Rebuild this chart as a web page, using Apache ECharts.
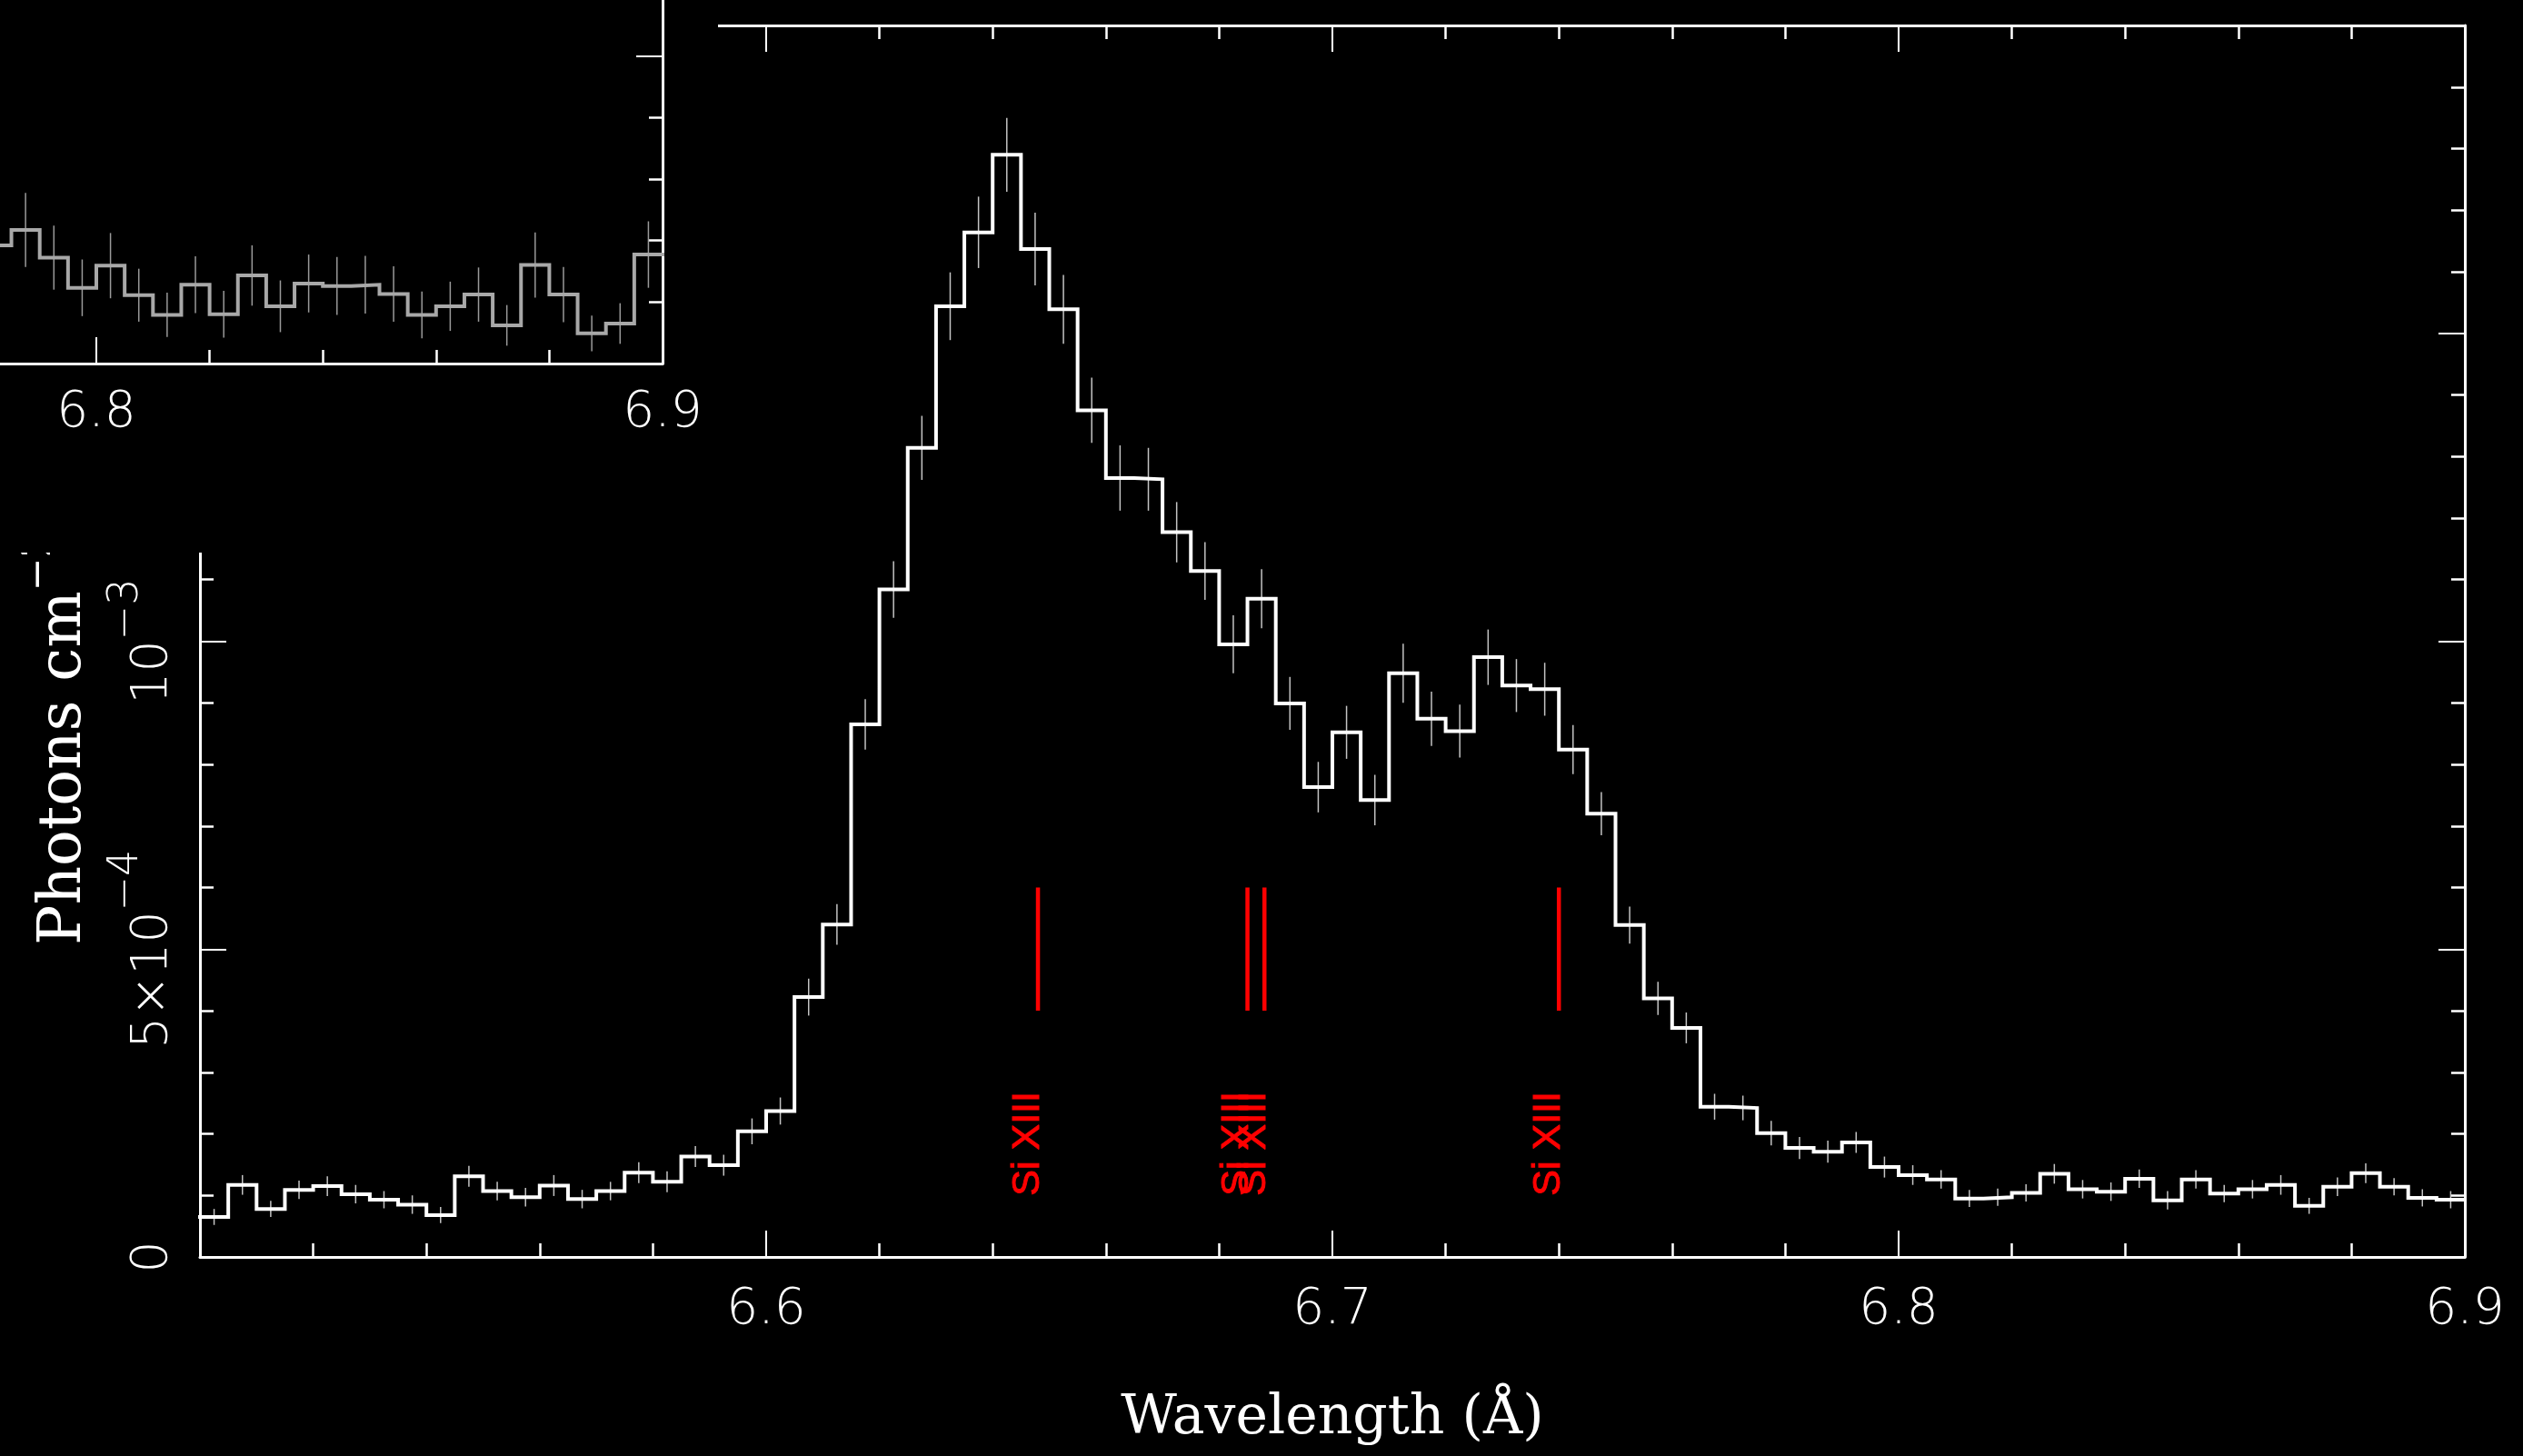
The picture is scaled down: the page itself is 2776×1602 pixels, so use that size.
<!DOCTYPE html>
<html><head><meta charset="utf-8">
<script src="https://cdn.jsdelivr.net/npm/echarts@6/dist/echarts.min.js"></script>
<style>html,body{margin:0;padding:0;background:#000;}#c{width:2776px;height:1602px;}</style>
</head><body><div id="c"></div>
<script>
// Flux density in units of 1e-4 photons cm^-2 s^-1 Å^-1, 0.005 Å bins
const binStart = 6.5;
const binWidth = 0.005;
const flux = [
  0.65, 1.17, 0.78, 1.09, 1.15, 1.02, 0.93, 0.85, 0.68, 1.31,
  1.07, 0.97, 1.16, 0.94, 1.07, 1.37, 1.22, 1.63, 1.49, 2.04,
  2.37, 4.22, 5.40, 8.65, 10.84, 13.14, 15.44, 16.64, 17.90, 16.37,
  15.39, 13.75, 12.65, 12.63, 11.77, 11.14, 9.95, 10.69, 8.99, 7.63,
  8.52, 7.42, 9.48, 8.74, 8.54, 9.74, 9.28, 9.22, 8.24, 7.20,
  5.39, 4.20, 3.72, 2.44, 2.42, 2.01, 1.77, 1.71, 1.86, 1.46,
  1.33, 1.26, 0.95, 0.97, 1.04, 1.35, 1.10, 1.06, 1.27, 0.92,
  1.26, 1.03, 1.10, 1.17, 0.83, 1.14, 1.36, 1.14, 0.96, 0.93
];
const fluxErr = [
  0.13, 0.16, 0.13, 0.15, 0.16, 0.15, 0.14, 0.15, 0.13, 0.17,
  0.15, 0.15, 0.17, 0.15, 0.15, 0.17, 0.17, 0.17, 0.17, 0.21,
  0.22, 0.30, 0.33, 0.41, 0.46, 0.52, 0.55, 0.58, 0.60, 0.59,
  0.56, 0.53, 0.53, 0.51, 0.49, 0.47, 0.47, 0.48, 0.43, 0.41,
  0.43, 0.41, 0.48, 0.44, 0.43, 0.45, 0.43, 0.43, 0.40, 0.35,
  0.30, 0.27, 0.25, 0.21, 0.20, 0.20, 0.18, 0.18, 0.17, 0.17,
  0.16, 0.15, 0.14, 0.14, 0.14, 0.16, 0.15, 0.15, 0.15, 0.15,
  0.15, 0.14, 0.15, 0.16, 0.13, 0.15, 0.16, 0.14, 0.14, 0.14
];
// Inset panel (gray spectrum), visible part only
const insetStart = 6.78;
const insetFlux = [1.92, 2.17, 1.72, 1.23, 1.59, 1.11, 0.79, 1.28, 0.80, 1.43, 0.93, 1.30,
                   1.26, 1.28, 1.13, 0.79, 0.93, 1.12, 0.62, 1.60, 1.12, 0.49, 0.65, 1.77];
const insetErr  = [0.55, 0.60, 0.52, 0.46, 0.53, 0.43, 0.36, 0.46, 0.38, 0.49, 0.42, 0.47,
                   0.47, 0.47, 0.45, 0.38, 0.40, 0.44, 0.33, 0.53, 0.45, 0.29, 0.33, 0.54];
// Line identifications
const lineWavelengths = [6.648, 6.685, 6.688, 6.740];
const lineLabels = ['Si XIII', 'Si XIII', 'Si XIII', 'Si XIII'];
const markerRange = [4, 6];
const markerLabelY = 1.84;
// Tick labels
const xTickValues = [6.6, 6.7, 6.8, 6.9];
const xTickLabels = ['6.6', '6.7', '6.8', '6.9'];
const yTickValues = [0, 5, 10];
const yTickLabels = ['{n|0}', '{n|5×10}{sup|−4}', '{n|10}{sup|−3}'];

function stepData(start, vals) {
  const d = vals.map((v, i) => [+(start + i * binWidth).toFixed(4), v]);
  d.push([+(start + vals.length * binWidth).toFixed(4), vals[vals.length - 1]]);
  return d;
}
function errData(start, vals, errs) {
  return vals.map((v, i) => [+(start + (i + 0.5) * binWidth).toFixed(5), v - errs[i], v + errs[i]]);
}
function xFmt(v) {
  const i = xTickValues.findIndex(t => Math.abs(t - v) < 1e-6);
  return i < 0 ? '' : xTickLabels[i];
}
function yFmt(v) {
  const i = yTickValues.findIndex(t => Math.abs(t - v) < 1e-6);
  return i < 0 ? '' : yTickLabels[i];
}
const W = '#ffffff';
const numFont = 'DejaVu Sans';
function baseAxis(extra) {
  return Object.assign({
    type: 'value',
    axisLine: { show: true, onZero: false, lineStyle: { color: W, width: 3 } },
    axisTick: { show: true, inside: true, length: 29, lineStyle: { color: W, width: 2 } },
    minorTick: { show: true, splitNumber: 5, length: 15, lineStyle: { color: W, width: 2.5 } },
    splitLine: { show: false },
    minorSplitLine: { show: false },
    axisLabel: { show: false }
  }, extra);
}
const xLabel = (margin) => ({ show: true, margin: margin, color: W, fontSize: 55, fontFamily: numFont, fontWeight: 200, formatter: xFmt });

function errRender(color) {
  return function (params, api) {
    const p1 = api.coord([api.value(0), api.value(1)]);
    const p2 = api.coord([api.value(0), api.value(2)]);
    return { type: 'line', shape: { x1: p1[0], y1: p1[1], x2: p2[0], y2: p2[1] },
             style: { stroke: color, lineWidth: 1.5 } };
  };
}

const chart = echarts.init(document.getElementById('c'), null, { renderer: 'canvas' });
chart.setOption({
  backgroundColor: '#000',
  animation: false,
  grid: [
    { left: 220, right: 64, top: 28, bottom: 219, containLabel: false, outerBoundsMode: 'none' },
    { left: -1763, top: -955, width: 2492, height: 1355, containLabel: false, outerBoundsMode: 'none' }
  ],
  xAxis: [
    baseAxis({ gridIndex: 0, position: 'bottom', min: 6.5, max: 6.9, interval: 0.1,
      axisLabel: xLabel(31),
      name: 'Wavelength (Å)', nameLocation: 'middle', nameGap: 148,
      nameTextStyle: { color: W, fontSize: 60, fontFamily: 'DejaVu Serif' } }),
    baseAxis({ gridIndex: 0, position: 'top', min: 6.5, max: 6.9, interval: 0.1 }),
    baseAxis({ gridIndex: 1, position: 'bottom', min: 6.5, max: 6.9, interval: 0.1, z: 20,
      axisLabel: xLabel(27) })
  ],
  yAxis: [
    baseAxis({ gridIndex: 0, position: 'left', min: 0, max: 20, interval: 5,
      axisLabel: { show: true, rotate: 90, margin: 24, color: W, formatter: yFmt,
        rich: {
          n: { fontSize: 55, fontFamily: numFont, fontWeight: 200, color: W, lineHeight: 60, verticalAlign: 'bottom' },
          sup: { fontSize: 46, fontFamily: numFont, fontWeight: 200, color: W, lineHeight: 46, verticalAlign: 'bottom', padding: [0, 0, 34, 0] }
        } } }),
    baseAxis({ gridIndex: 0, position: 'right', min: 0, max: 20, interval: 5 }),
    baseAxis({ gridIndex: 1, position: 'right', min: 0, max: 20, interval: 5, z: 20 })
  ],
  graphic: { elements: [
    { type: 'text', x: 66, y: 1040, rotation: Math.PI / 2, z: 5,
      style: { text: '{a|Photons cm}{s|−2}{a| s}{s|−1}{a| Å}{s|−1}', fill: W,
        align: 'left', verticalAlign: 'middle',
        rich: {
          a: { font: '66px "DejaVu Serif"', fill: W, lineHeight: 76, verticalAlign: 'bottom' },
          s: { font: '44px "DejaVu Serif"', fill: W, lineHeight: 44, verticalAlign: 'bottom', padding: [0, 0, 38, 0] }
        } } },
    { type: 'rect', shape: { x: 0, y: 0, width: 790, height: 608 }, style: { fill: '#000' }, z: 10 }
  ] },
  series: [
    { type: 'custom', xAxisIndex: 0, yAxisIndex: 0, z: 2, renderItem: errRender('#c4c4c4'),
      data: errData(binStart, flux, fluxErr), encode: { x: 0, y: [1, 2] } },
    { type: 'line', xAxisIndex: 0, yAxisIndex: 0, z: 3, step: 'end', showSymbol: false, symbol: 'none',
      lineStyle: { color: W, width: 4, cap: 'square', join: 'miter' },
      data: stepData(binStart, flux) },
    { type: 'custom', xAxisIndex: 0, yAxisIndex: 0, z: 4,
      data: lineWavelengths.map((w, i) => [w, i]),
      encode: { x: 0 },
      renderItem: function (params, api) {
        const x = api.value(0);
        const a = api.coord([x, markerRange[0]]);
        const b = api.coord([x, markerRange[1]]);
        const c = api.coord([x, markerLabelY]);
        return { type: 'group', children: [
          { type: 'line', shape: { x1: a[0], y1: a[1], x2: b[0], y2: b[1] },
            style: { stroke: '#ff0000', lineWidth: 4.5 } },
          { type: 'text', x: c[0] - 11, y: c[1], rotation: Math.PI / 2,
            style: { text: lineLabels[api.value(1)], fill: '#ff0000', font: '43px "Liberation Sans"',
              align: 'center', verticalAlign: 'middle', stroke: '#ff0000', lineWidth: 1 } }
        ] };
      } },
    { type: 'custom', xAxisIndex: 2, yAxisIndex: 2, z: 21, renderItem: errRender('#9a9a9a'),
      data: errData(insetStart, insetFlux, insetErr), encode: { x: 0, y: [1, 2] } },
    { type: 'line', xAxisIndex: 2, yAxisIndex: 2, z: 22, step: 'end', showSymbol: false, symbol: 'none',
      lineStyle: { color: '#a8a8a8', width: 4, cap: 'square', join: 'miter' },
      data: stepData(insetStart, insetFlux) }
  ]
});
</script></body></html>
